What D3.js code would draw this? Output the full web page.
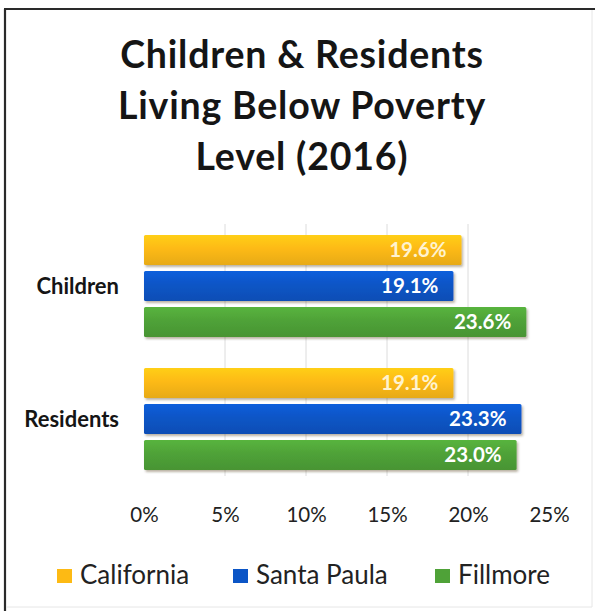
<!DOCTYPE html>
<html>
<head>
<meta charset="utf-8">
<script src="https://cdn.jsdelivr.net/npm/d3@7"></script>
<style>
  html, body { margin: 0; padding: 0; background: #fff; }
  svg { display: block; font-family: Lato, "Open Sans", sans-serif; }
</style>
</head>
<body>
<svg id="chart" width="595" height="611"></svg>
<script>
// Poverty rates by group and place, 2016
const titleLines = ["Children & Residents", "Living Below Poverty", "Level (2016)"];
const groups = ["Children", "Residents"];
const places = ["California", "Santa Paula", "Fillmore"];
const california = [19.6, 19.1];
const santaPaula = [19.1, 23.3];
const fillmore = [23.6, 23.0];
const tickValues = [0, 5, 10, 15, 20, 25];
const placeColors = ["#FDBA14", "#0B55C6", "#4FA238"];

const seriesValues = [california, santaPaula, fillmore];

const svg = d3.select("#chart");

// frame
svg.append("line").attr("x1", 5).attr("y1", 9).attr("x2", 5).attr("y2", 611)
  .attr("stroke", "#2a2a2a").attr("stroke-width", 2.2);
svg.append("line").attr("x1", 4).attr("y1", 9).attr("x2", 595).attr("y2", 9)
  .attr("stroke", "#2a2a2a").attr("stroke-width", 2.2);
svg.append("line").attr("x1", 592).attr("y1", 10).attr("x2", 592).attr("y2", 607)
  .attr("stroke", "#e6e6e6").attr("stroke-width", 1);
svg.append("line").attr("x1", 6).attr("y1", 607).attr("x2", 592).attr("y2", 607)
  .attr("stroke", "#e6e6e6").attr("stroke-width", 1);

// title
svg.append("g").selectAll("text").data(titleLines).join("text")
  .attr("x", 302).attr("y", (d, i) => 68 + i * 51)
  .attr("text-anchor", "middle")
  .attr("font-size", 37.5).attr("font-weight", 700).attr("fill", "#151515")
  .attr("letter-spacing", 0.8)
  .text(d => d);

const x = d3.scaleLinear().domain([0, 25]).range([144, 549]);
const y0 = d3.scaleBand().domain(groups).range([235, 470]).paddingInner(0.233).paddingOuter(0);
const y1 = d3.scaleBand().domain(places).range([0, y0.bandwidth()]).paddingInner(0.167);

// vertical gridlines
svg.append("g").selectAll("line").data(tickValues.slice(1, -1)).join("line")
  .attr("x1", d => x(d)).attr("x2", d => x(d))
  .attr("y1", 224).attr("y2", 476)
  .attr("stroke", "#dcdcdc").attr("stroke-width", 1);

// x tick labels
const xAxis = d3.axisBottom(x).tickValues(tickValues).tickFormat(d => d + "%").tickSize(0).tickPadding(0);
const gx = svg.append("g").attr("transform", "translate(0,522)").call(xAxis);
gx.select(".domain").remove();
gx.selectAll("text").attr("font-size", 20.5).attr("fill", "#222")
  .attr("font-family", "Lato, 'Open Sans', sans-serif").attr("dy", 0).attr("y", 0);

// group labels
svg.append("g").selectAll("text").data(groups).join("text")
  .attr("x", 119).attr("y", d => y0(d) + y0.bandwidth() / 2)
  .attr("dy", "0.35em").attr("text-anchor", "end")
  .attr("font-size", 22).attr("font-weight", 700).attr("fill", "#151515")
  .text(d => d);

const defs = svg.append("defs");
const shadow = defs.append("filter").attr("id", "shadow").attr("x", "-5%").attr("y", "-20%").attr("width", "115%").attr("height", "160%");
shadow.append("feDropShadow").attr("dx", 1.5).attr("dy", 2).attr("stdDeviation", 1.2).attr("flood-color", "#3a2a00").attr("flood-opacity", 0.35);

placeColors.forEach((c, i) => {
  const g = defs.append("linearGradient").attr("id", "grad" + i).attr("x1", 0).attr("y1", 0).attr("x2", 0).attr("y2", 1);
  g.append("stop").attr("offset", "0%").attr("stop-color", d3.color(c).brighter(0.3));
  g.append("stop").attr("offset", "45%").attr("stop-color", c);
  g.append("stop").attr("offset", "100%").attr("stop-color", d3.color(c).darker(0.25));
});

const rows = [];
groups.forEach((g, gi) => places.forEach((p, pi) => rows.push({ group: g, place: p, pi, value: seriesValues[pi][gi] })));

const bars = svg.append("g").selectAll("g").data(rows).join("g")
  .attr("transform", d => `translate(0,${y0(d.group) + y1(d.place)})`);

bars.append("rect")
  .attr("x", x(0)).attr("y", 0)
  .attr("width", d => x(d.value) - x(0)).attr("height", y1.bandwidth())
  .attr("rx", 1.5)
  .attr("fill", d => `url(#grad${d.pi})`)
  .attr("filter", "url(#shadow)");

bars.append("text")
  .attr("x", d => x(d.value) - 15).attr("y", y1.bandwidth() / 2)
  .attr("dy", "0.36em").attr("text-anchor", "end")
  .attr("font-size", 20.5).attr("font-weight", 700)
  .attr("fill", d => d.pi === 0 ? "#fff3cf" : "#fff")
  .text(d => d.value.toFixed(1) + "%");

// legend
const legendX = [57, 233, 435];
const lg = svg.append("g").selectAll("g").data(places).join("g")
  .attr("transform", (d, i) => `translate(${legendX[i]},576)`);
lg.append("rect").attr("x", 0).attr("y", -7).attr("width", 15).attr("height", 14)
  .attr("fill", (d, i) => placeColors[i]);
lg.append("text").attr("x", 23).attr("y", 8)
  .attr("font-size", 26).attr("fill", "#222").text(d => d);
</script>
</body>
</html>
